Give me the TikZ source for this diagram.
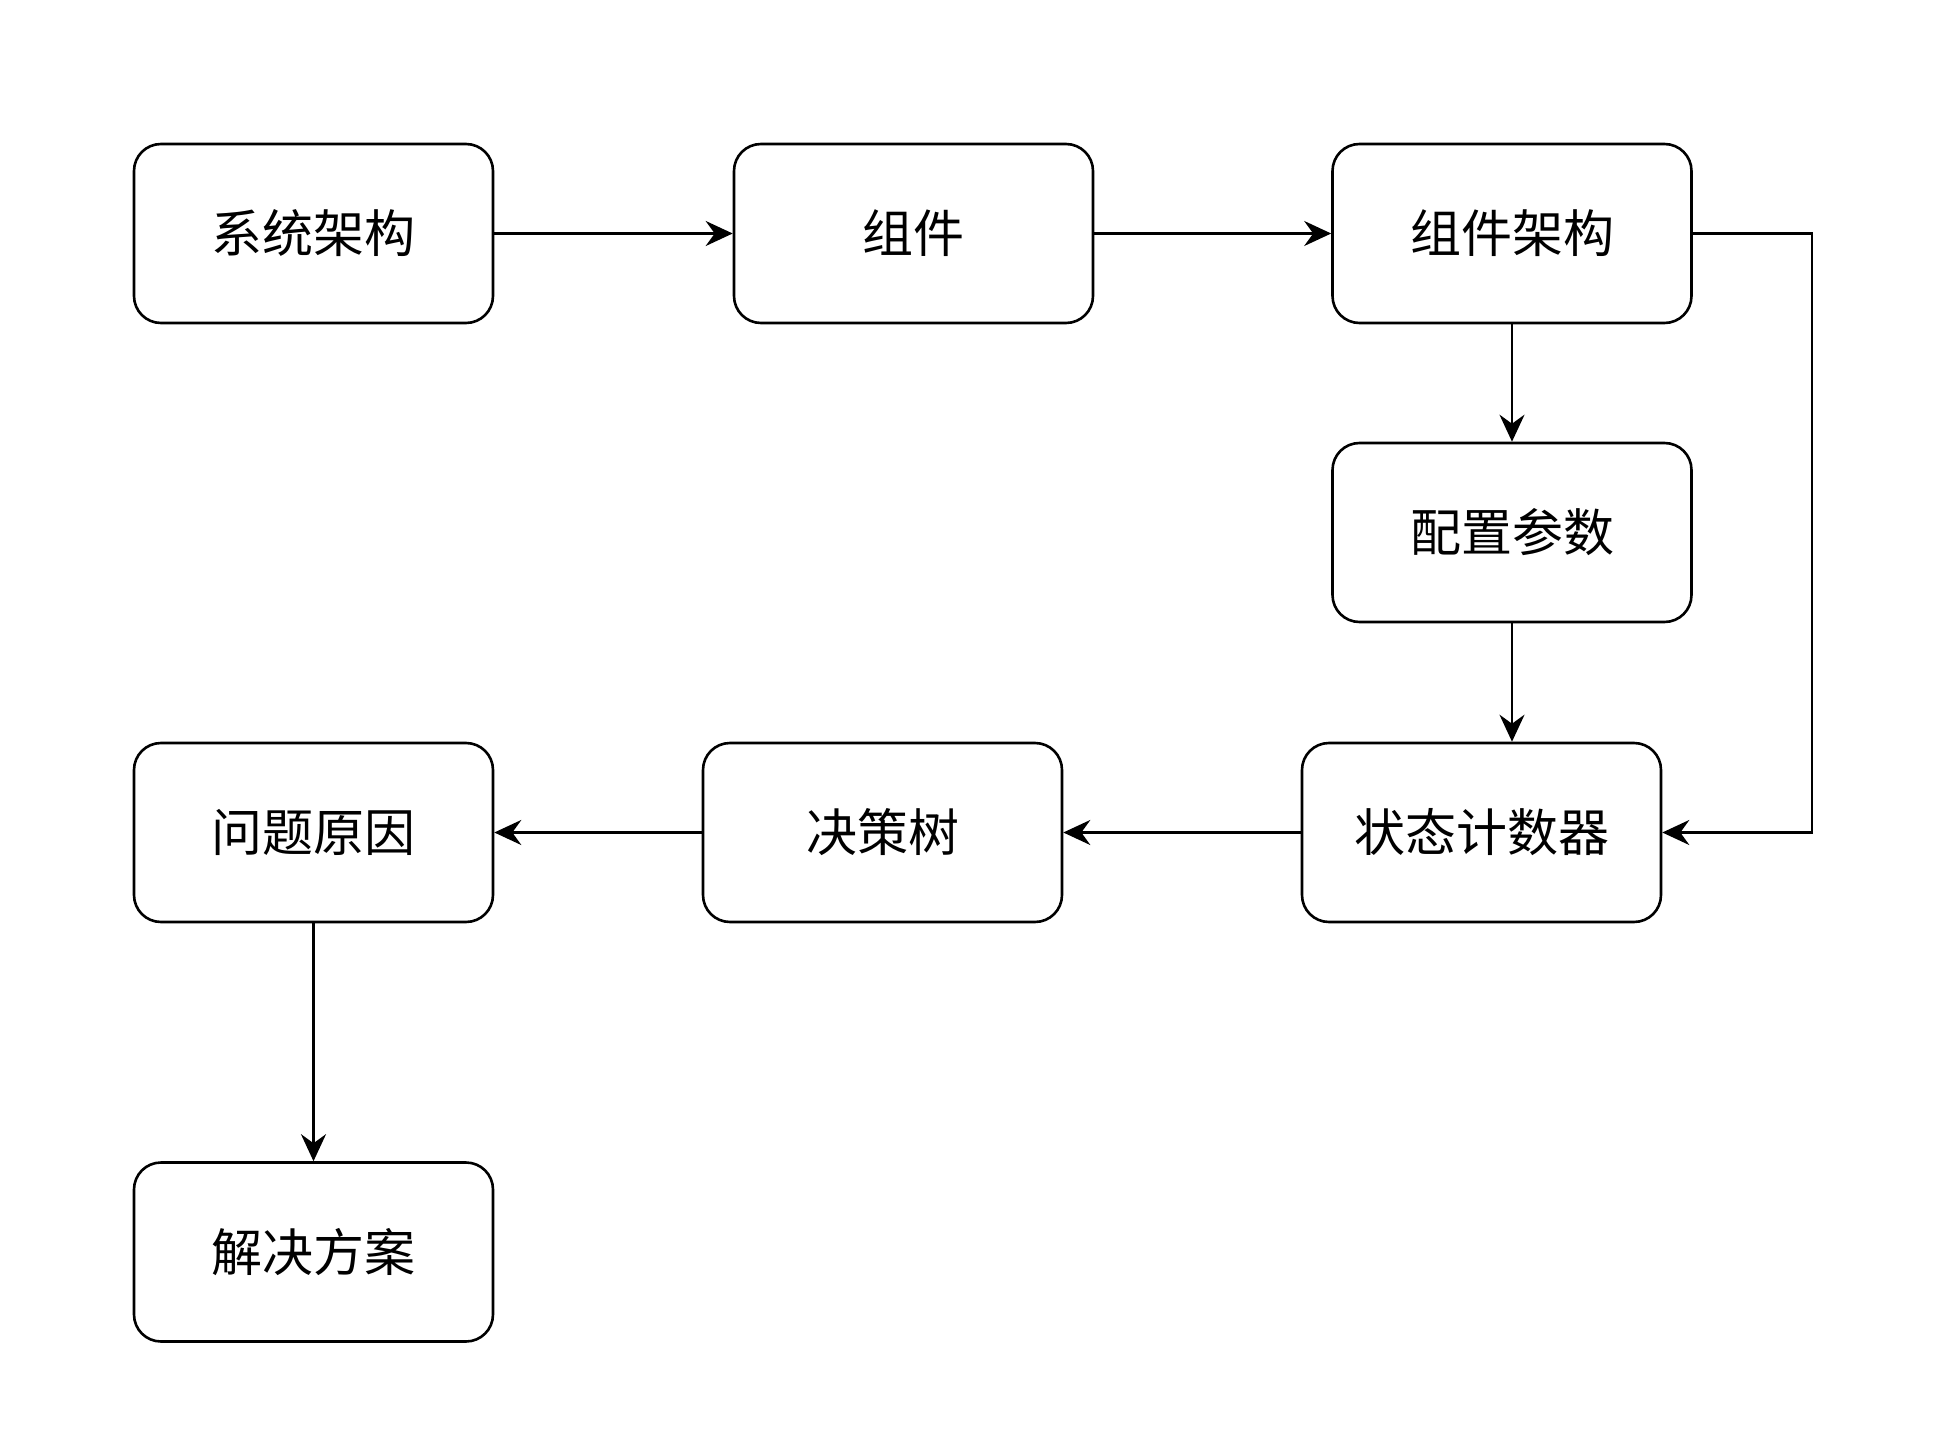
\documentclass[tikz,border=0pt]{standalone}
\usepackage{fontspec}
\setmainfont{Noto Sans CJK SC}
\usetikzlibrary{arrows.meta}
\newcommand{\boxtxt}[1]{\raisebox{-4pt}{#1}}
\begin{document}
\begin{tikzpicture}[x=1pt,y=-1pt,
  box/.style={draw,line width=2.6pt,rounded corners=27pt,minimum width=359pt,minimum height=179pt,inner sep=0pt,font=\fontsize{51}{55}\selectfont,fill=white},
  conn/.style={line width=2.6pt,-{Stealth[length=27pt,width=25pt,inset=9pt]}}]
\useasboundingbox (0,0) rectangle (1947,1431);
\node[box] (a) at (313.5,233.5) {\boxtxt{系统架构}};
\node[box] (b) at (913.5,233.5) {\boxtxt{组件}};
\node[box] (c) at (1512,233.5) {\boxtxt{组件架构}};
\node[box] (d) at (1512,532.5) {\boxtxt{配置参数}};
\node[box] (e) at (1481.5,832.5) {\boxtxt{状态计数器}};
\node[box] (f) at (882.5,832.5) {\boxtxt{决策树}};
\node[box] (g) at (313.5,832.5) {\boxtxt{问题原因}};
\node[box] (h) at (313.5,1252) {\boxtxt{解决方案}};
\coordinate (r1) at (1812,233.5);
\coordinate (r2) at (1812,832.5);
\draw[conn] (a) -- (b);
\draw[conn] (b) -- (c);
\draw[conn] (c) -- (d);
\draw[conn] (d.south) -- (d.south |- e.north);
\draw[conn] (c.east) -- (r1) -- (r2) -- (e.east);
\draw[conn] (e) -- (f);
\draw[conn] (f) -- (g);
\draw[conn] (g) -- (h);
\end{tikzpicture}
\end{document}
